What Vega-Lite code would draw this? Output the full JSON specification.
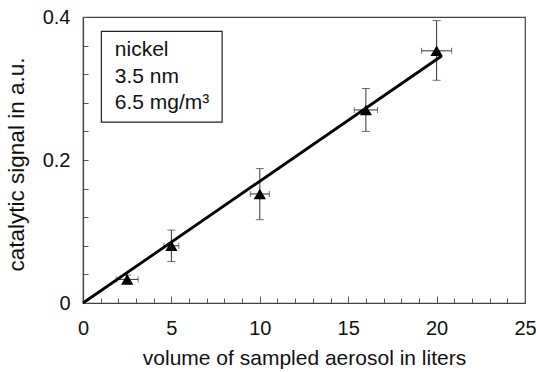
{
  "$schema": "https://vega.github.io/schema/vega-lite/v6.json",
  "autosize": "none",
  "width": 442,
  "height": 286,
  "padding": {"left": 83, "top": 17, "right": 11, "bottom": 69},
  "background": "white",
  "config": {
    "font": "Liberation Sans",
    "view": {"stroke": "#444", "strokeWidth": 1.2},
    "axis": {"grid": false, "domainColor": "#444", "domainWidth": 1.2, "tickColor": "#555", "tickWidth": 1, "labelColor": "#111", "titleColor": "#111", "labelFont": "Liberation Sans", "titleFont": "Liberation Sans", "titleFontWeight": "normal", "labelOverlap": false, "labelBound": false}
  },
  "datasets": {
    "pts": [
      {"x": 2.5, "y": 0.033, "xlo": 1.88, "xhi": 3.12, "ylo": 0.027, "yhi": 0.039},
      {"x": 5, "y": 0.08, "xlo": 4.58, "xhi": 5.42, "ylo": 0.058, "yhi": 0.102},
      {"x": 10, "y": 0.1525, "xlo": 9.46, "xhi": 10.54, "ylo": 0.1165, "yhi": 0.188},
      {"x": 16, "y": 0.27, "xlo": 15.34, "xhi": 16.66, "ylo": 0.24, "yhi": 0.3},
      {"x": 20, "y": 0.3527, "xlo": 19.15, "xhi": 20.85, "ylo": 0.3115, "yhi": 0.395}
    ],
    "fit": [
      {"x": 0, "y": 0},
      {"x": 20.3, "y": 0.3458}
    ],
    "box": [
      {"x1": 1.04, "x2": 7.87, "y1": 0.253, "y2": 0.38}
    ],
    "labels": [
      {"x": 1.8, "y": 0.345, "t": "nickel"},
      {"x": 1.8, "y": 0.308, "t": "3.5 nm"},
      {"x": 1.8, "y": 0.271, "t": "6.5 mg/m³"}
    ]
  },
  "layer": [
    {
      "data": {"name": "box"},
      "mark": {"type": "rect", "fill": "white", "stroke": "#222", "strokeWidth": 1.2},
      "encoding": {
        "x": {"field": "x1", "type": "quantitative", "title": "volume of sampled aerosol in liters", "scale": {"domain": [0, 25], "nice": false, "zero": false},
          "axis": {"values": [0,1,2,3,4,5,6,7,8,9,10,11,12,13,14,15,16,17,18,19,20,21,22,23,24,25],
            "tickCount": 100,
            "labelExpr": "datum.value % 5 === 0 ? datum.label : ''",
            "format": "d",
            "tickSize": {"condition": {"test": "datum.value % 5 === 0", "value": -7}, "value": -5},
            "labelPadding": 22, "labelFontSize": 20, "labelFlush": false,
            "titleFontSize": 21, "titlePadding": 7}},
        "x2": {"field": "x2"},
        "y": {"field": "y1", "type": "quantitative", "title": "catalytic signal in a.u.", "scale": {"domain": [0, 0.4], "nice": false},
          "axis": {"values": [0, 0.04, 0.08, 0.12, 0.16, 0.2, 0.24, 0.28, 0.32, 0.36, 0.4],
            "tickCount": 100,
            "labelExpr": "datum.value === 0 ? '0' : datum.value === 0.2 ? '0.2' : datum.value === 0.4 ? '0.4' : ''",
            "tickSize": -5, "labelPadding": 18, "labelFontSize": 20, "labelFlush": false,
            "titleFontSize": 22.5, "titlePadding": 14, "titleY": 147}},
        "y2": {"field": "y2"}
      }
    },
    {
      "data": {"name": "labels"},
      "mark": {"type": "text", "align": "left", "baseline": "alphabetic", "fontSize": 21, "color": "#111", "font": "Liberation Sans"},
      "encoding": {
        "x": {"field": "x", "type": "quantitative", "title": "volume of sampled aerosol in liters"},
        "y": {"field": "y", "type": "quantitative", "title": "catalytic signal in a.u."},
        "text": {"field": "t"}
      }
    },
    {
      "data": {"name": "pts"},
      "mark": {"type": "errorbar", "color": "#333", "thickness": 1, "ticks": {"size": 6, "color": "#333", "thickness": 1}},
      "encoding": {
        "x": {"field": "xlo", "type": "quantitative", "title": "volume of sampled aerosol in liters"},
        "x2": {"field": "xhi"},
        "y": {"field": "y", "type": "quantitative", "title": "catalytic signal in a.u."}
      }
    },
    {
      "data": {"name": "pts"},
      "mark": {"type": "errorbar", "color": "#333", "thickness": 1, "ticks": {"size": 8, "color": "#333", "thickness": 1}},
      "encoding": {
        "y": {"field": "ylo", "type": "quantitative", "title": "catalytic signal in a.u."},
        "y2": {"field": "yhi"},
        "x": {"field": "x", "type": "quantitative", "title": "volume of sampled aerosol in liters"}
      }
    },
    {
      "data": {"name": "fit"},
      "mark": {"type": "line", "color": "black", "strokeWidth": 2.8},
      "encoding": {
        "x": {"field": "x", "type": "quantitative", "title": "volume of sampled aerosol in liters"},
        "y": {"field": "y", "type": "quantitative", "title": "catalytic signal in a.u."}
      }
    },
    {
      "data": {"name": "pts"},
      "mark": {"type": "point", "shape": "triangle-up", "filled": true, "color": "black", "opacity": 1, "size": 150},
      "encoding": {
        "x": {"field": "x", "type": "quantitative", "title": "volume of sampled aerosol in liters"},
        "y": {"field": "y", "type": "quantitative", "title": "catalytic signal in a.u."}
      }
    }
  ]
}
